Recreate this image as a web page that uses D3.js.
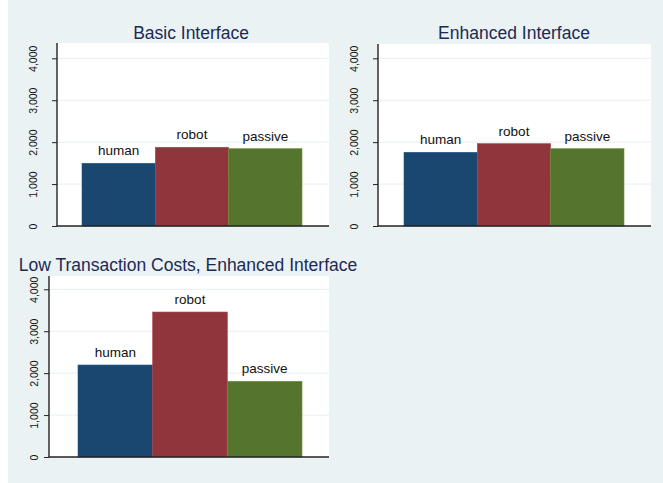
<!DOCTYPE html>
<html lang="en">
<head>
  <meta charset="UTF-8">
  <title>Interface bar charts</title>
  <script src="https://d3js.org/d3.v7.min.js"></script>
  <style>
    body { margin: 0; background: #fff; }
    svg { font-family: "Liberation Sans", Arial, sans-serif; }
    .bar-label { font-size: 13.5px; fill: #111; }
    .title { font-size: 17.5px; fill: #1c2a55; }
    .tick text { font-size: 10.5px; fill: #111; }
  </style>
</head>
<body>
  <svg width="663" height="483"></svg>

  <script>
    // data
    const traders = ["human", "robot", "passive"];
    const panelTitles = ["Basic Interface", "Enhanced Interface", "Low Transaction Costs, Enhanced Interface"];
    const basicValues = [1496, 1878, 1844];
    const enhancedValues = [1758, 1964, 1844];
    const lowCostValues = [2194, 3458, 1806];
    const yTicks = [0, 1000, 2000, 3000, 4000];

    const colors = ["#1a476f", "#90353b", "#55752f"];

    const svg = d3.select("svg");

    // page background (graph region)
    svg.append("rect")
      .attr("x", 8).attr("y", 0)
      .attr("width", 655).attr("height", 483)
      .attr("fill", "#eaf2f3");

    // panel frames: plot area box, where 4,000 sits, where the bars start/end
    const panels = [
      { title: panelTitles[0], values: basicValues, left: 57, right: 329, top: 43, bottom: 226, y4000: 58.3,
        barL: 82, barR: 302, titleX: 191, titleY: 39, labelGap: 20 },
      { title: panelTitles[1], values: enhancedValues, left: 378, right: 651, top: 44, bottom: 226, y4000: 58.3,
        barL: 404, barR: 624, titleX: 514, titleY: 39, labelGap: 20 },
      { title: panelTitles[2], values: lowCostValues, left: 49, right: 329, top: 276, bottom: 457, y4000: 289.3,
        barL: 78, barR: 302, titleX: 188, titleY: 271, labelGap: 11 }
    ];

    const fmt = d3.format(",");

    panels.forEach(p => {
      const g = svg.append("g");

      const y = d3.scaleLinear()
        .domain([0, 4000])
        .range([p.bottom, p.y4000]);

      const x = d3.scaleBand()
        .domain(traders)
        .range([p.barL, p.barR])
        .padding(0);

      // plot region
      g.append("rect")
        .attr("x", p.left).attr("y", p.top)
        .attr("width", p.right - p.left).attr("height", p.bottom - p.top)
        .attr("fill", "#fff");

      // grid lines
      g.selectAll(".grid")
        .data(yTicks.slice(1))
        .join("line")
        .attr("x1", p.left).attr("x2", p.right)
        .attr("y1", d => y(d)).attr("y2", d => y(d))
        .attr("stroke", "#e6eef0")
        .attr("stroke-width", 1);

      // bars
      g.selectAll(".bar")
        .data(p.values)
        .join("rect")
        .attr("x", (d, i) => x(traders[i]))
        .attr("y", d => y(d))
        .attr("width", x.bandwidth())
        .attr("height", d => y(0) - y(d))
        .attr("fill", (d, i) => colors[i])
        .attr("stroke", (d, i) => d3.color(colors[i]).brighter(0.6))
        .attr("stroke-width", 0.6);

      g.selectAll(".bar-label")
        .data(p.values)
        .join("text")
        .attr("class", "bar-label")
        .attr("x", (d, i) => x(traders[i]) + x.bandwidth() / 2)
        .attr("y", d => y(d) - 8)
        .attr("text-anchor", "middle")
        .text((d, i) => traders[i]);

      // y axis
      const yAxis = g.append("g")
        .attr("transform", "translate(" + p.left + ",0)")
        .call(d3.axisLeft(y).tickValues(yTicks).tickFormat(fmt).tickSize(5).tickPadding(0));
      yAxis.select(".domain").remove();
      yAxis.selectAll(".tick line").attr("stroke", "#222");
      yAxis.selectAll(".tick text")
        .attr("x", null).attr("dy", null)
        .attr("text-anchor", "middle")
        .attr("transform", "translate(" + (-p.labelGap) + ",0) rotate(-90)");

      g.append("line")
        .attr("x1", p.left).attr("x2", p.left)
        .attr("y1", p.top).attr("y2", p.bottom)
        .attr("stroke", "#222").attr("stroke-width", 1.4);
      g.append("line")
        .attr("x1", p.left).attr("x2", p.right)
        .attr("y1", p.bottom).attr("y2", p.bottom)
        .attr("stroke", "#222").attr("stroke-width", 1.4);

      g.append("text")
        .attr("class", "title")
        .attr("x", p.titleX).attr("y", p.titleY)
        .attr("text-anchor", "middle")
        .text(p.title);
    });
  </script>
</body>
</html>
